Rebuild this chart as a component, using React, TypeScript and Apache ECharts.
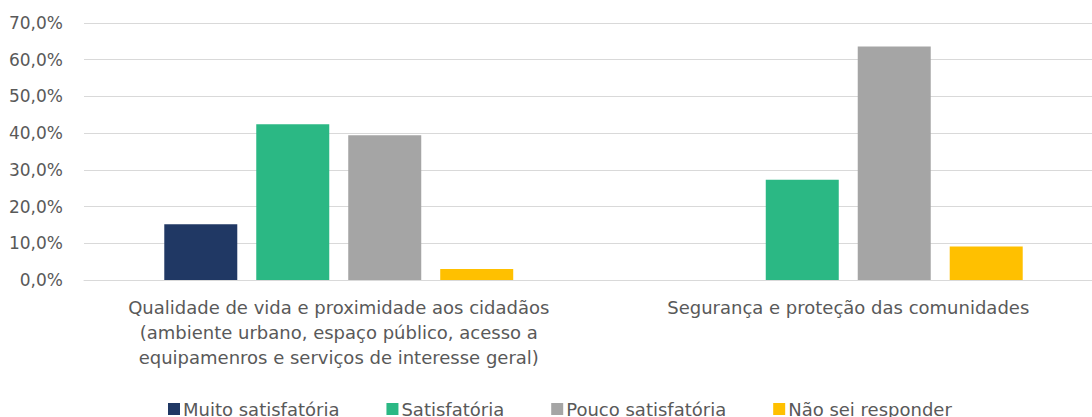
import React, { useEffect, useRef } from "react";
import * as echarts from "echarts";

const categories = [
  "Qualidade de vida e proximidade aos cidadãos\n(ambiente urbano, espaço público, acesso a\nequipamenros e serviços de interesse geral)",
  "Segurança e proteção das comunidades",
];
const seriesNames = ["Muito satisfatória", "Satisfatória", "Pouco satisfatória", "Não sei responder"];
const muitoSatisfatoria = [15.2, 0];
const satisfatoria = [42.4, 27.3];
const poucoSatisfatoria = [39.4, 63.6];
const naoSeiResponder = [3.0, 9.1];
const colors = ["#203864", "#2BB884", "#A5A5A5", "#FFC000"];

export default function App() {
  const ref = useRef<HTMLDivElement>(null);
  useEffect(() => {
    if (!ref.current) return;
    const chart = echarts.init(ref.current, null, { renderer: "svg" });
    const font = "'DejaVu Sans', Roboto, sans-serif";
    const data = [muitoSatisfatoria, satisfatoria, poucoSatisfatoria, naoSeiResponder];
    chart.setOption({
      animation: false,
      textStyle: { fontFamily: font },
      grid: { left: 84, right: 0, top: 23, bottom: 137, containLabel: false },
      legend: {
        top: 400,
        left: 168,
        padding: 0,
        itemWidth: 12,
        itemHeight: 12,
        itemGap: 47,
        icon: "rect",
        textStyle: { fontSize: 18, color: "#595959", fontFamily: font, padding: [0, 0, 0, -2] },
        data: seriesNames,
      },
      xAxis: {
        type: "category",
        data: categories,
        axisLine: { show: true, lineStyle: { color: "#D9D9D9", width: 1 } },
        axisTick: { show: false },
        axisLabel: {
          interval: 0,
          fontSize: 18,
          lineHeight: 25,
          margin: 15,
          color: "#595959",
          fontFamily: font,
        },
      },
      yAxis: {
        type: "value",
        min: 0,
        max: 70,
        interval: 10,
        axisLine: { show: false },
        axisTick: { show: false },
        splitLine: { lineStyle: { color: "#D9D9D9", width: 1 } },
        axisLabel: {
          fontSize: 17,
          color: "#595959",
          margin: 21,
          fontFamily: font,
          formatter: (v: number) => v.toFixed(1).replace(".", ",") + "%",
        },
      },
      series: seriesNames.map((name, i) => ({
        name,
        type: "bar",
        data: data[i],
        barWidth: 73,
        barGap: "26%",
        itemStyle: { color: colors[i] },
      })),
    });
    return () => chart.dispose();
  }, []);
  return (
    <div style={{ position: "fixed", left: 0, top: 0, width: 1092, height: 417, overflow: "hidden", background: "#fff" }}>
      <div ref={ref} style={{ width: 1103, height: 417 }} />
    </div>
  );
}
